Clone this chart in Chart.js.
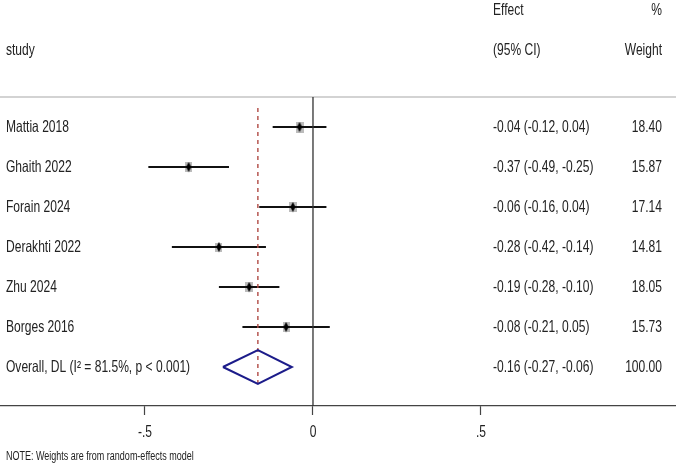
<!DOCTYPE html>
<html>
<head>
<meta charset="utf-8">
<script src="https://cdn.jsdelivr.net/npm/chart.js@4/dist/chart.umd.min.js"></script>
<style>
  html, body { margin: 0; padding: 0; background: #fff; }
  canvas { display: block; }
</style>
</head>
<body>
<canvas id="c" width="676" height="467"></canvas>
<script>
// ---- data ----
const studies = ['Mattia 2018', 'Ghaith 2022', 'Forain 2024', 'Derakhti 2022', 'Zhu 2024', 'Borges 2016'];
const effects = [-0.04, -0.37, -0.06, -0.28, -0.19, -0.08];
const lowerCI = [-0.12, -0.49, -0.16, -0.42, -0.28, -0.21];
const upperCI = [0.04, -0.25, 0.04, -0.14, -0.10, 0.05];
const weights = [18.40, 15.87, 17.14, 14.81, 18.05, 15.73];
const overallLabel = 'Overall, DL (I\u00B2 = 81.5%, p < 0.001)';
const overallEffect = -0.164;
const overallLower = -0.268;
const overallUpper = -0.063;
const overallWeight = 100.00;
const tickValues = [-0.5, 0, 0.5];
const tickLabels = ['-.5', '0', '.5'];
const headerEffect = ['Effect', '(95% CI)'];
const headerWeight = ['%', 'Weight'];
const headerStudy = 'study';
const noteText = 'NOTE: Weights are from random-effects model';

// ---- layout / style ----
const FONT = '"Liberation Sans", Arial, sans-serif';
const FS = 16.5;  // font size
const SX = 0.73;  // horizontal condensing of the text
const rowOf = i => i + 1;
const overallRow = studies.length + 1;
const headerRow1 = -1.925, headerRow2 = -0.925, sepRow = 0.25;
const X_MIN = -0.9315, X_MAX = 1.0804;
const Y_MIN = -2.175, Y_MAX = 7.975;

function fmt(v) { return v.toFixed(2); }
function ciText(e, l, u) { return fmt(e) + ' (' + fmt(l) + ', ' + fmt(u) + ')'; }

// small tall black diamond marker
const dm = document.createElement('canvas');
dm.width = 6; dm.height = 11;
(function () {
  const g = dm.getContext('2d');
  g.fillStyle = '#000';
  g.beginPath();
  g.moveTo(3, 0.5); g.lineTo(5.6, 5.5); g.lineTo(3, 10.5); g.lineTo(0.4, 5.5);
  g.closePath(); g.fill();
})();

// weight boxes (slightly taller than wide)
function boxImage(w) {
  const c = document.createElement('canvas');
  const bw = Math.round(Math.sqrt(w) * 1.85), bh = Math.round(Math.sqrt(w) * 2.45);
  c.width = bw; c.height = bh;
  const g = c.getContext('2d');
  g.fillStyle = '#bcbcbc';
  g.fillRect(0, 0, bw, bh);
  return c;
}

const datasets = [];

datasets.push({
  type: 'scatter',
  data: effects.map((e, i) => ({ x: e, y: rowOf(i) })),
  pointStyle: weights.map(boxImage),
  pointRadius: 5,
  order: 5
});

studies.forEach((s, i) => {
  datasets.push({
    type: 'scatter',
    showLine: true,
    data: [{ x: lowerCI[i], y: rowOf(i) }, { x: upperCI[i], y: rowOf(i) }],
    borderColor: '#111',
    borderWidth: 2,
    pointRadius: 0,
    order: 4
  });
});

datasets.push({
  type: 'scatter',
  data: effects.map((e, i) => ({ x: e, y: rowOf(i) })),
  pointStyle: dm,
  pointRadius: 5,
  order: 1
});

datasets.push({
  type: 'scatter', showLine: true,
  data: [{ x: X_MIN, y: sepRow }, { x: X_MAX, y: sepRow }],
  borderColor: '#c4c4c4', borderWidth: 1.5, pointRadius: 0, order: 6
});

datasets.push({
  type: 'scatter', showLine: true,
  data: [{ x: 0, y: sepRow }, { x: 0, y: Y_MAX }],
  borderColor: '#333', borderWidth: 1.3, pointRadius: 0, order: 3
});

datasets.push({
  type: 'scatter', showLine: true,
  data: [{ x: overallEffect, y: 0.525 }, { x: overallEffect, y: overallRow + 0.4 }],
  borderColor: '#b04a44', borderWidth: 1.4, borderDash: [4, 4], pointRadius: 0, order: 2
});

datasets.push({
  type: 'scatter', showLine: true,
  data: [
    { x: overallLower, y: overallRow },
    { x: overallEffect, y: overallRow - 0.42 },
    { x: overallUpper, y: overallRow },
    { x: overallEffect, y: overallRow + 0.42 },
    { x: overallLower, y: overallRow }
  ],
  borderColor: '#1c1c8a', borderWidth: 2, pointRadius: 0, fill: false, tension: 0, order: 1
});

function txt(ctx, t, x, y, align, sx) {
  ctx.save();
  ctx.translate(x, y);
  ctx.scale(sx, 1);
  ctx.textAlign = align;
  ctx.fillText(t, 0, 0);
  ctx.restore();
}

const textPlugin = {
  id: 'forestText',
  afterDraw(chart) {
    const ctx = chart.ctx;
    const ys = chart.scales.y;
    const xs = chart.scales.x;
    ctx.save();
    ctx.fillStyle = '#222';
    ctx.font = FS + 'px ' + FONT;
    ctx.textBaseline = 'middle';
    txt(ctx, headerEffect[0], 493, ys.getPixelForValue(headerRow1), 'left', SX);
    txt(ctx, headerEffect[1], 493, ys.getPixelForValue(headerRow2), 'left', SX);
    txt(ctx, headerStudy, 6, ys.getPixelForValue(headerRow2), 'left', SX);
    txt(ctx, headerWeight[0], 662, ys.getPixelForValue(headerRow1), 'right', SX);
    txt(ctx, headerWeight[1], 662, ys.getPixelForValue(headerRow2), 'right', SX);
    studies.forEach((s, i) => {
      const y = ys.getPixelForValue(rowOf(i));
      txt(ctx, s, 6, y, 'left', SX);
      txt(ctx, ciText(effects[i], lowerCI[i], upperCI[i]), 493, y, 'left', SX);
      txt(ctx, fmt(weights[i]), 662, y, 'right', SX);
    });
    const yo = ys.getPixelForValue(overallRow);
    txt(ctx, overallLabel, 6, yo, 'left', SX);
    txt(ctx, ciText(overallEffect, overallLower, overallUpper), 493, yo, 'left', SX);
    txt(ctx, fmt(overallWeight), 662, yo, 'right', SX);
    // tick labels
    const ty = chart.chartArea.bottom + 26;
    tickValues.forEach((v, k) => {
      txt(ctx, tickLabels[k], xs.getPixelForValue(v), ty, 'center', SX);
    });
    ctx.font = '12.5px ' + FONT;
    txt(ctx, noteText, 6, 457, 'left', 0.72);
    ctx.restore();
  }
};

new Chart(document.getElementById('c'), {
  type: 'scatter',
  data: { datasets },
  options: {
    responsive: false,
    animation: false,
    devicePixelRatio: 1,
    layout: { padding: 0, autoPadding: false },
    plugins: { legend: { display: false }, tooltip: { enabled: false }, title: { display: false } },
    scales: {
      x: {
        type: 'linear', min: X_MIN, max: X_MAX,
        afterBuildTicks: s => { s.ticks = tickValues.map(v => ({ value: v })); },
        afterFit: s => { s.height = 61; },
        ticks: { display: false, autoSkip: false, maxRotation: 0 },
        grid: { drawOnChartArea: false, drawTicks: true, tickLength: 9, tickWidth: 1.2, tickColor: '#444' },
        border: { display: true, color: '#444', width: 1.2 }
      },
      y: {
        type: 'linear', min: Y_MIN, max: Y_MAX, reverse: true, display: false
      }
    }
  },
  plugins: [textPlugin]
});
</script>
</body>
</html>
